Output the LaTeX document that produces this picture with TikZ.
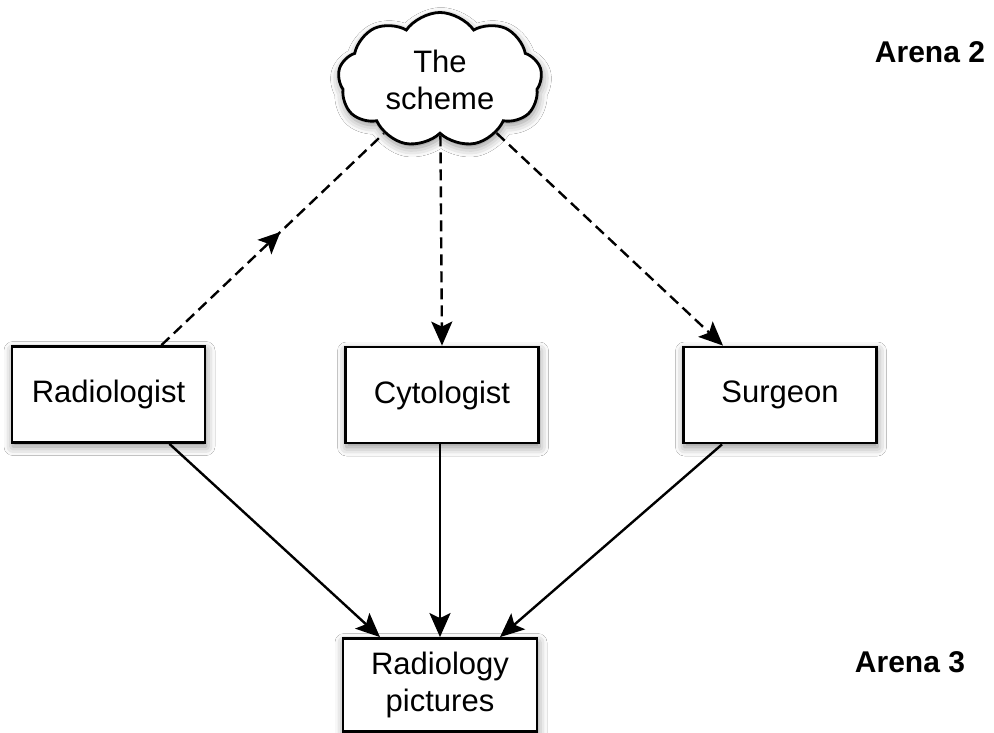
\documentclass[tikz,border=0pt]{standalone}
\usepackage{fontspec}
\setmainfont{Liberation Sans}
\usetikzlibrary{arrows.meta,shapes.symbols,shadows.blur,decorations.markings}

\tikzset{
  softshadow/.style={blur shadow={shadow xshift=1pt, shadow yshift=-4pt,
      shadow blur radius=9pt, shadow opacity=45}},
  actor/.style={draw=black, line width=2.8pt, fill=white, softshadow,
      minimum width=193pt, minimum height=96pt, inner sep=0pt,
      font=\fontsize{31}{37}\selectfont, align=center},
  idea/.style={cloud, cloud puffs=9, cloud puff arc=110, aspect=1.5,
      draw=black, line width=2.8pt, fill=white, softshadow,
      minimum width=204pt, minimum height=135pt, inner sep=0pt,
      font=\fontsize{31}{37}\selectfont, align=center},
  arena/.style={font=\fontsize{30}{36}\selectfont\bfseries},
  tip/.style={-{Stealth[length=24pt,width=21pt,inset=5pt]}},
  flow/.style={line width=2.4pt, tip},
  link/.style={line width=2.4pt, dash pattern=on 11pt off 6pt, tip},
  backlink/.style={line width=2.4pt, dash pattern=on 11pt off 6pt,
      postaction={decorate},
      decoration={markings, mark=at position 0.535 with
        {\arrow{Stealth[length=22pt,width=20pt,inset=5pt]}}}},
}

\begin{document}
\begin{tikzpicture}[x=1pt, y=-1pt]
  \path[use as bounding box, fill=white] (0,0) rectangle (994,733);

  % the shared scheme
  \node[idea] (scheme) at (440,80) {The\\scheme};

  % the three professions
  \node[actor] (rad)  at (108.5,394.5) {Radiologist};
  \node[actor] (cyt)  at (442,395)     {Cytologist};
  \node[actor] (surg) at (780,395)     {Surgeon};

  % the common object
  \node[actor, minimum width=194pt, minimum height=93pt] (pics) at (440,685)
    {Radiology\\pictures};

  % arena labels
  \node[arena] (a2) at (930,52)  {Arena 2};
  \node[arena] (a3) at (910,662) {Arena 3};

  % relations to the scheme (dashed)
  \draw[backlink] ([xshift=53pt]rad.north) -- (scheme);
  \draw[link] (scheme) -- (cyt.north);
  \draw[link] (scheme) -- ([xshift=-57pt]surg.north);

  % relations to the pictures (solid)
  \draw[flow] ([xshift=61pt]rad.south) -- ([xshift=-60pt]pics.north);
  \draw[flow] (cyt.south -| pics.north) -- (pics.north);
  \draw[flow] ([xshift=-58pt]surg.south) -- ([xshift=60pt]pics.north);
\end{tikzpicture}
\end{document}
